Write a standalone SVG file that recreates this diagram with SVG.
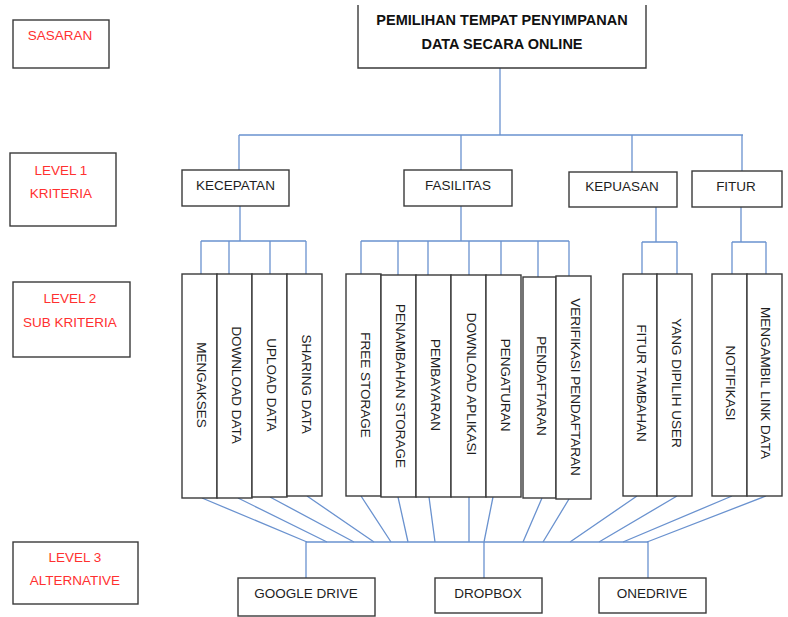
<svg xmlns="http://www.w3.org/2000/svg" width="788" height="617" viewBox="0 0 788 617">
<style>
.box{fill:#fff;stroke:#3a3a3a;stroke-width:1.4}
.lg{font-family:"Liberation Sans",Arial,sans-serif;font-size:13.5px;fill:#ff3030;text-anchor:middle}
.t{font-family:"Liberation Sans",Arial,sans-serif;font-size:13.5px;fill:#1e1e1e;text-anchor:middle}
.tb{font-family:"Liberation Sans",Arial,sans-serif;font-size:14.5px;font-weight:bold;fill:#111;text-anchor:middle}
.v{font-family:"Liberation Sans",Arial,sans-serif;font-size:13.5px;fill:#1e1e1e;text-anchor:middle;dominant-baseline:central}
.c{fill:none;stroke:#6a92cf;stroke-width:1.3}
</style>
<rect width="788" height="617" fill="#fff"/>
<g id="legend-sasaran"><rect class="box" x="13" y="20" width="96" height="48"/><text class="lg" x="60" y="40">SASARAN</text></g>
<g id="legend-level1"><rect class="box" x="10" y="153" width="106" height="73"/><text class="lg" x="61" y="175">LEVEL 1</text><text class="lg" x="61" y="198">KRITERIA</text></g>
<g id="legend-level2"><rect class="box" x="13" y="282" width="117" height="75"/><text class="lg" x="70" y="303">LEVEL 2</text><text class="lg" x="70" y="327">SUB KRITERIA</text></g>
<g id="legend-level3"><rect class="box" x="13" y="542" width="125" height="62"/><text class="lg" x="75" y="562">LEVEL 3</text><text class="lg" x="75" y="585">ALTERNATIVE</text></g>

<g id="connectors">
<path class="c" d="M500 68V135M239 135H743M239 135V170M461 135V170M632 135V172M742 135V171"/>
<path class="c" d="M240 206V241M201 241H306M201 241V274M229 241V274M270 241V274M306 241V274"/>
<path class="c" d="M461 206V241M361 241H569M361 241V274M398 241V275M428 241V275M469 241V275M501 241V275M538 241V277M569 241V276"/>
<path class="c" d="M656 207V242M642 242H677M642 242V274M677 242V274"/>
<path class="c" d="M741 207V242M732 242H766M732 242V274M766 242V274"/>
<path class="c" d="M202 498L307 542M238 498L327 542M270 497L354 542M307 496L374 542M361 496L391 542M398 497L408 542M429 497L435 542M469 497L469 542M493 497L484 542M542 498L523 542M569 499L543 542M637 496L570 542M677 496L599 542M732 496L623 542M766 496L647 542"/>
<path class="c" d="M306 542H648M306 542V578M484 542V578M648 542V578"/>
</g>

<g id="goal"><path class="box" d="M358 5V68H646V5"/><text class="tb" x="502" y="25">PEMILIHAN TEMPAT PENYIMPANAN</text><text class="tb" x="502" y="49">DATA SECARA ONLINE</text></g>

<g id="kecepatan"><rect class="box" x="182" y="170" width="107" height="36"/><text class="t" x="235.5" y="190">KECEPATAN</text></g>
<g id="fasilitas"><rect class="box" x="404" y="170" width="108" height="36"/><text class="t" x="458" y="190">FASILITAS</text></g>
<g id="kepuasan"><rect class="box" x="569" y="172" width="108" height="35"/><text class="t" x="622" y="191">KEPUASAN</text></g>
<g id="fitur"><rect class="box" x="692" y="171" width="90" height="36"/><text class="t" x="736" y="191">FITUR</text></g>

<g id="mengakses"><rect class="box" x="182" y="274" width="35" height="224"/><text class="v" transform="translate(201 385) rotate(90)">MENGAKSES</text></g>
<g id="download-data"><rect class="box" x="217" y="274" width="35" height="224"/><text class="v" transform="translate(236 385) rotate(90)">DOWNLOAD DATA</text></g>
<g id="upload-data"><rect class="box" x="252" y="274" width="35" height="223"/><text class="v" transform="translate(271 385) rotate(90)">UPLOAD DATA</text></g>
<g id="sharing-data"><rect class="box" x="287" y="274" width="35" height="222"/><text class="v" transform="translate(306 384) rotate(90)">SHARING DATA</text></g>

<g id="free-storage"><rect class="box" x="346" y="274" width="35" height="222"/><text class="v" transform="translate(365 385) rotate(90)">FREE STORAGE</text></g>
<g id="penambahan-storage"><rect class="box" x="381" y="275" width="35" height="222"/><text class="v" transform="translate(400 386) rotate(90)">PENAMBAHAN STORAGE</text></g>
<g id="pembayaran"><rect class="box" x="416" y="275" width="35" height="222"/><text class="v" transform="translate(435 385) rotate(90)">PEMBAYARAN</text></g>
<g id="download-aplikasi"><rect class="box" x="451" y="275" width="35" height="222"/><text class="v" transform="translate(471 384) rotate(90)">DOWNLOAD APLIKASI</text></g>
<g id="pengaturan"><rect class="box" x="486" y="275" width="35" height="222"/><text class="v" transform="translate(505 385) rotate(90)">PENGATURAN</text></g>
<g id="pendaftaran"><rect class="box" x="523" y="277" width="33" height="221"/><text class="v" transform="translate(541 386) rotate(90)">PENDAFTARAN</text></g>
<g id="verifikasi-pendaftaran"><rect class="box" x="556" y="276" width="35" height="223"/><text class="v" transform="translate(575 387) rotate(90)">VERIFIKASI PENDAFTARAN</text></g>

<g id="fitur-tambahan"><rect class="box" x="623" y="274" width="34" height="222"/><text class="v" transform="translate(641 383) rotate(90)">FITUR TAMBAHAN</text></g>
<g id="yang-dipilih-user"><rect class="box" x="657" y="274" width="35" height="222"/><text class="v" transform="translate(676 383) rotate(90)">YANG DIPILIH USER</text></g>

<g id="notifikasi"><rect class="box" x="712" y="274" width="35" height="222"/><text class="v" transform="translate(730 383) rotate(90)">NOTIFIKASI</text></g>
<g id="mengambil-link-data"><rect class="box" x="747" y="274" width="35" height="222"/><text class="v" transform="translate(765 383) rotate(90)">MENGAMBIL LINK DATA</text></g>

<g id="google-drive"><rect class="box" x="238" y="578" width="137" height="38"/><text class="t" x="306" y="598">GOOGLE DRIVE</text></g>
<g id="dropbox"><rect class="box" x="435" y="578" width="107" height="35"/><text class="t" x="488" y="598">DROPBOX</text></g>
<g id="onedrive"><rect class="box" x="599" y="578" width="107" height="35"/><text class="t" x="652" y="598">ONEDRIVE</text></g>
</svg>
